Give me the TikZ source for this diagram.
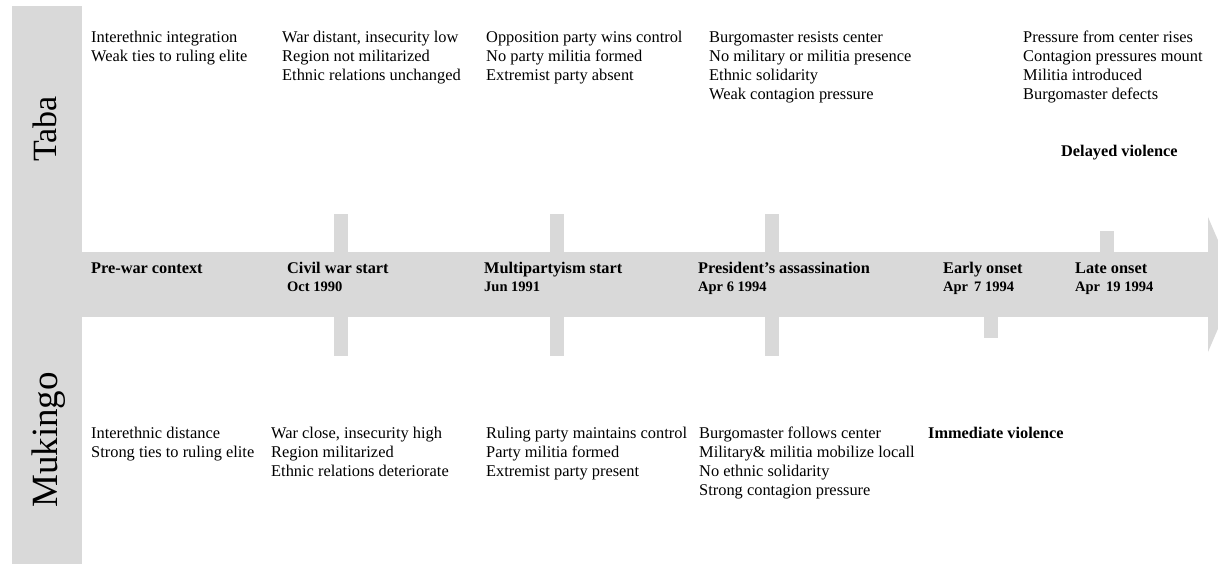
\documentclass[tikz,border=0pt]{standalone}
\usepackage{fontspec}
\setmainfont{Liberation Serif}
\definecolor{bandgray}{HTML}{D9D9D9}
\begin{document}
\begin{tikzpicture}[x=1pt,y=-1pt,
  bandfill/.style={fill=bandgray, draw=none},
  % multi-line notes are placed by the baseline of their last line
  note/.style={anchor=base west, inner sep=0pt, align=left,
    font=\fontsize{16.4}{19}\selectfont},
  eventlabel/.style={anchor=base west, inner sep=0pt,
    font=\fontsize{16.3}{18}\selectfont\bfseries},
  datelabel/.style={anchor=base west, inner sep=0pt,
    font=\fontsize{14.5}{17}\selectfont\bfseries},
  casename/.style={anchor=base, inner sep=0pt, rotate=90},
]
\useasboundingbox (0,0) rectangle (1218,564);

% timeline band, side bar, ticks and arrow head
\fill[bandfill] (12,6) rectangle (82,564);
\fill[bandfill] (82,252) rectangle (1208,317);
\fill[bandfill] (1208,217) -- (1237,284.5) -- (1208,352) -- cycle;
\foreach \x in {334,550,765} {
  \fill[bandfill] (\x,214) rectangle ++(14,38);
  \fill[bandfill] (\x,317) rectangle ++(14,39);
}
\fill[bandfill] (984,317) rectangle (998,338);
\fill[bandfill] (1100,231) rectangle (1114,252);

% case names
\node[casename, font=\fontsize{34}{40}\selectfont] (taba) at (56,129) {Taba};
\node[casename, font=\fontsize{37}{44}\selectfont] (mukingo) at (57,440) {Mukingo};

% events on the timeline
\node[eventlabel] (prewar) at (91,273) {Pre-war context};
\node[eventlabel] (civil) at (287,273) {Civil war start};
\node[datelabel] (civildate) at (287,291) {Oct 1990};
\node[eventlabel] (multi) at (484,273) {Multipartyism start};
\node[datelabel] (multidate) at (484,291) {Jun 1991};
\node[eventlabel] (pres) at (698,273) {President’s assassination};
\node[datelabel] (presdate) at (698,291) {Apr 6 1994};
\node[eventlabel] (early) at (943,273) {Early onset};
\node[datelabel] (earlydate) at (943,291) {Apr \,7 1994};
\node[eventlabel] (late) at (1075,273) {Late onset};
\node[datelabel] (latedate) at (1075,291) {Apr \,19 1994};

% Taba conditions
\node[note] (tabaA) at (91,62) {Interethnic integration\\Weak ties to ruling elite};
\node[note] (tabaB) at (282,81) {War distant, insecurity low\\Region not militarized\\Ethnic relations unchanged};
\node[note] (tabaC) at (486,81) {Opposition party wins control\\No party militia formed\\Extremist party absent};
\node[note] (tabaD) at (709,100) {Burgomaster resists center\\No military or militia presence\\Ethnic solidarity\\Weak contagion pressure};
\node[note] (tabaE) at (1023,100) {Pressure from center rises\\Contagion pressures mount\\Militia introduced\\Burgomaster defects};
\node[eventlabel] (tabaOut) at (1061,157) {Delayed violence};

% Mukingo conditions
\node[note] (mukA) at (91,457) {Interethnic distance\\Strong ties to ruling elite};
\node[note] (mukB) at (271,476) {War close, insecurity high\\Region militarized\\Ethnic relations deteriorate};
\node[note] (mukC) at (486,476) {Ruling party maintains control\\Party militia formed\\Extremist party present};
\node[note] (mukD) at (699,495) {Burgomaster follows center\\Military\& militia mobilize locall\\No ethnic solidarity\\Strong contagion pressure};
\node[eventlabel] (mukOut) at (928,438) {Immediate violence};
\end{tikzpicture}
\end{document}
